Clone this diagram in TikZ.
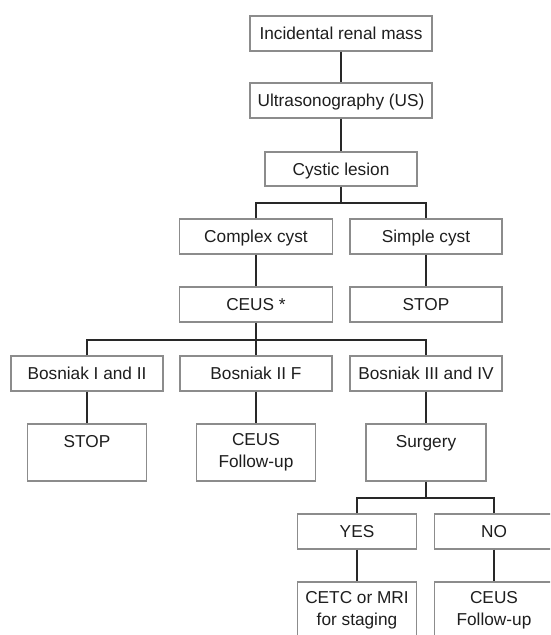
\documentclass[tikz,border=0pt]{standalone}
\usepackage{fontspec}
\setmainfont{Liberation Sans}
\definecolor{boxgray}{RGB}{140,140,140}
\definecolor{conncol}{RGB}{40,40,40}
\definecolor{txt}{RGB}{30,30,30}
\begin{document}
\begin{tikzpicture}[x=1pt,y=-1pt,
  box/.style={draw=boxgray, line width=1.2pt, inner sep=0pt, text=txt,
    font=\fontsize{17.25}{22}\selectfont, text height=12.4pt, text depth=0pt,
    minimum height=35pt},
  tallbox/.style={draw=boxgray, line width=1.2pt, inner sep=0pt, text=txt,
    font=\fontsize{17.25}{22}\selectfont, align=center,
    minimum width=119pt, minimum height=57pt},
  conn/.style={draw=conncol, line width=1.4pt}]
\useasboundingbox (0,0) rectangle (550,635);
\clip (0,0) rectangle (550,635);
\fill[white] (0,0) rectangle (550,635);
% nodes
\node[box, minimum width=182pt] (incid) at (341,33.5) {Incidental renal mass};
\node[box, minimum width=182pt] (us) at (341,100.5) {Ultrasonography (US)};
\node[box, minimum width=152pt, minimum height=34pt] (cystic) at (341,169) {Cystic lesion};
\node[box, minimum width=153pt] (complex) at (256,236.5) {Complex cyst};
\node[box, minimum width=152pt] (simple) at (426,236.5) {Simple cyst};
\node[box, minimum width=153pt] (ceus) at (256,304.5) {CEUS *};
\node[box, minimum width=152pt] (stopA) at (426,304.5) {STOP};
\node[box, minimum width=152pt] (b12) at (87,373.5) {Bosniak I and II};
\node[box, minimum width=152pt] (b2f) at (256,373.5) {Bosniak II F};
\node[box, minimum width=152pt] (b34) at (426,373.5) {Bosniak III and IV};
\node[tallbox] (stopB) at (87,452.5) {STOP\\\mbox{}};
\node[tallbox] (ceusA) at (256,452.5) {CEUS\\Follow-up};
\node[tallbox, minimum width=120pt] (surgery) at (426,452.5) {Surgery\\\mbox{}};
\node[box, minimum width=119pt] (yes) at (357,531.5) {YES};
\node[box, minimum width=119pt] (no) at (494,531.5) {NO};
\node[tallbox] (cetc) at (357,610.5) {CETC or MRI\\for staging};
\node[tallbox] (ceusB) at (494,610.5) {CEUS\\Follow-up};
% junctions
\coordinate (j1) at (341,203);
\coordinate (j2) at (256,340);
\coordinate (j3) at (426,498);
% connectors
\draw[conn] (incid) -- (us);
\draw[conn] (us) -- (cystic);
\draw[conn] (cystic.south) -- (j1);
\draw[conn] (complex.north) |- (j1) -| (simple.north);
\draw[conn] (complex) -- (ceus);
\draw[conn] (simple) -- (stopA);
\draw[conn] (ceus.south) -- (j2);
\draw[conn] (b12.north) |- (j2) -| (b34.north);
\draw[conn] (j2) -- (b2f.north);
\draw[conn] (b12) -- (stopB);
\draw[conn] (b2f) -- (ceusA);
\draw[conn] (b34) -- (surgery);
\draw[conn] (surgery.south) -- (j3);
\draw[conn] (yes.north) |- (j3) -| (no.north);
\draw[conn] (yes) -- (cetc);
\draw[conn] (no) -- (ceusB);
\end{tikzpicture}
\end{document}
